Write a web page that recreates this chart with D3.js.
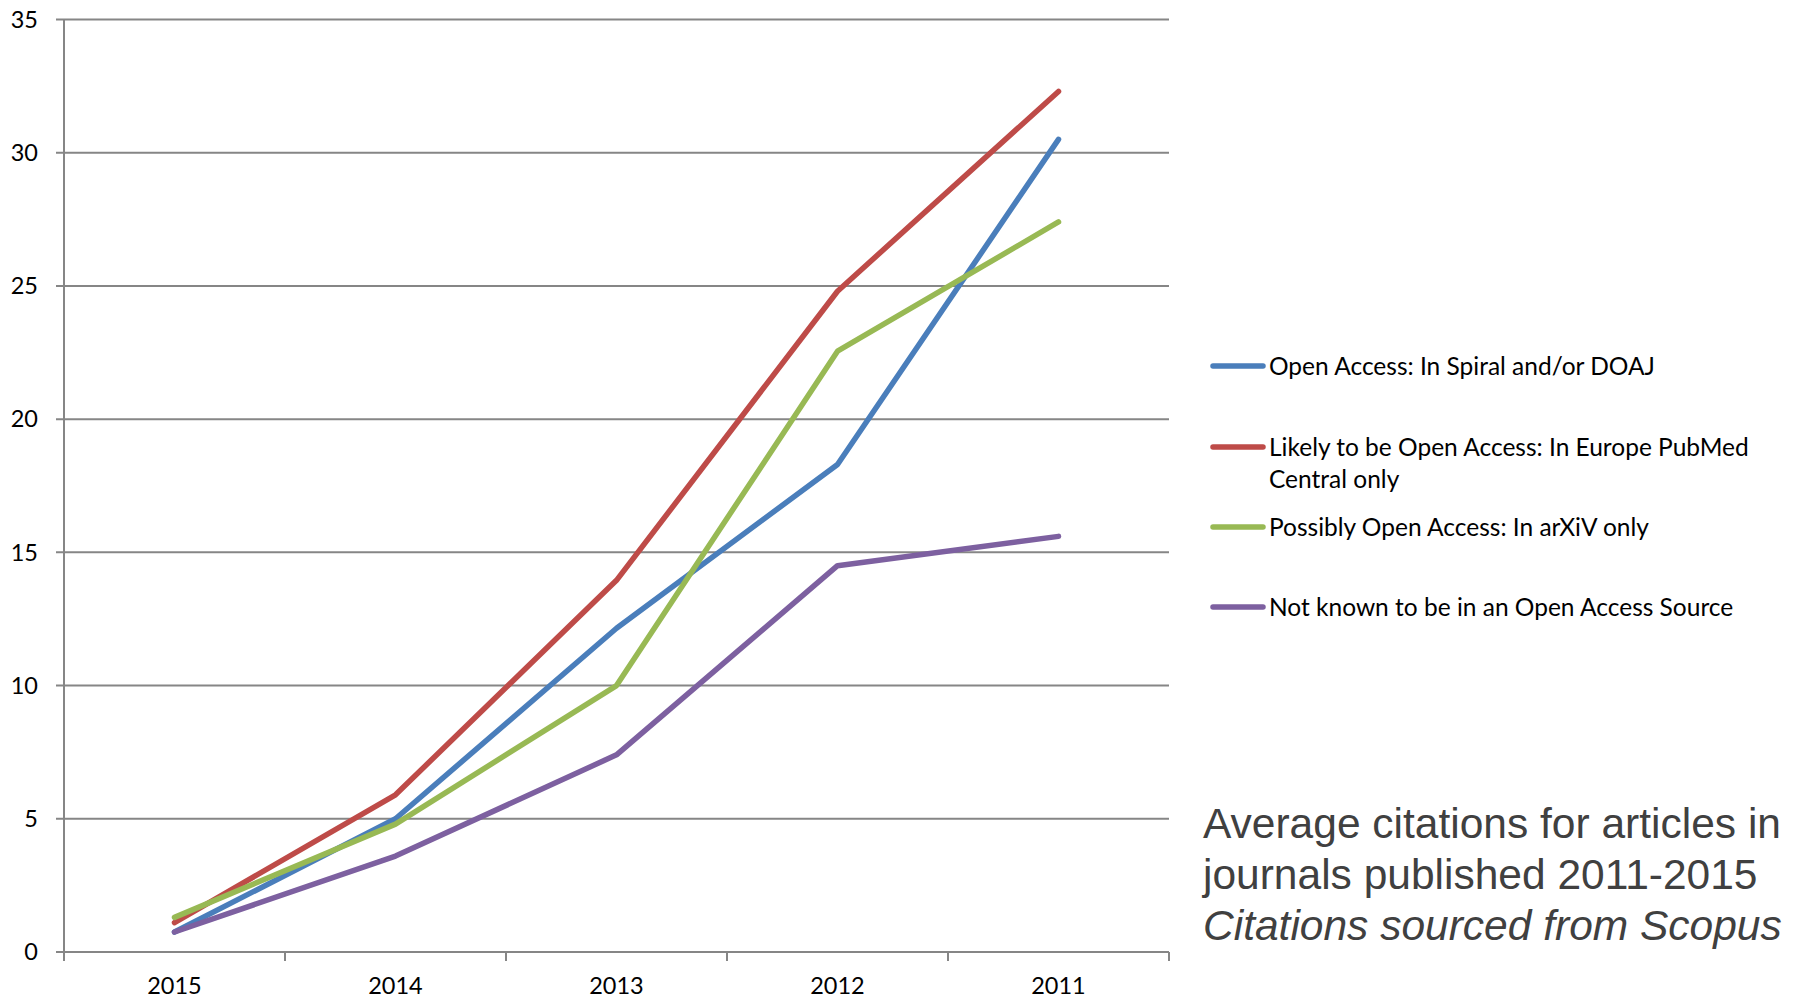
<!DOCTYPE html>
<html><head><meta charset="utf-8">
<script src="https://cdn.jsdelivr.net/npm/d3@7"></script>
<style>body{margin:0;background:#fff}svg{display:block}</style>
</head><body>
<svg id="c" width="1794" height="1000"></svg>
<script>
const categories = ["2015","2014","2013","2012","2011"];
const seriesNames = [
  "Open Access: In Spiral and/or DOAJ",
  "Likely to be Open Access: In Europe PubMed Central only",
  "Possibly Open Access: In arXiV only",
  "Not known to be in an Open Access Source"
];
const openAccess = [0.75, 5.0, 12.15, 18.3, 30.5];
const europePMC = [1.1, 5.9, 13.95, 24.8, 32.3];
const arxiv = [1.3, 4.8, 10.0, 22.55, 27.4];
const notKnown = [0.75, 3.6, 7.4, 14.5, 15.6];
const yTicks = [0,5,10,15,20,25,30,35];
const colors = ["#4A7EBB","#BE4B48","#98B954","#7D60A0"];
const titleLines = ["Average citations for articles in","journals published 2011-2015","Citations sourced from Scopus"];

const series = [openAccess, europePMC, arxiv, notKnown];
const svg = d3.select("#c");
const x = d3.scaleBand().domain(categories).range([64,1169]).padding(0);
const y = d3.scaleLinear().domain([0,35]).range([952,19.5]);
const tickFont = "Lato, 'Open Sans', sans-serif";

// gridlines
svg.append("g").selectAll("line").data(yTicks).join("line")
  .attr("x1",56).attr("x2",1169)
  .attr("y1",d=>y(d)).attr("y2",d=>y(d))
  .attr("stroke","#868686").attr("stroke-width",2);
// y axis line
svg.append("line").attr("x1",64).attr("x2",64).attr("y1",y(35)).attr("y2",y(0))
  .attr("stroke","#868686").attr("stroke-width",2);
// x ticks
const bounds = categories.map(c=>x(c)).concat([x.range()[1]]);
svg.append("g").selectAll("line").data(bounds).join("line")
  .attr("x1",d=>d).attr("x2",d=>d).attr("y1",y(0)).attr("y2",y(0)+9)
  .attr("stroke","#868686").attr("stroke-width",2);
// y labels
svg.append("g").selectAll("text").data(yTicks).join("text")
  .attr("x",38).attr("y",d=>y(d)).attr("dy","0.35em")
  .attr("text-anchor","end").attr("font-family",tickFont).attr("font-size",23.5)
  .attr("fill","#000").text(d=>d);
// x labels
svg.append("g").selectAll("text").data(categories).join("text")
  .attr("x",d=>x(d)+x.bandwidth()/2).attr("y",986).attr("dy","0.35em")
  .attr("text-anchor","middle").attr("font-family",tickFont).attr("font-size",23.5)
  .attr("fill","#000").text(d=>d);

// lines
const line = d3.line().x((d,i)=>x(categories[i])+x.bandwidth()/2).y(d=>y(d));
svg.append("g").selectAll("path").data(series).join("path")
  .attr("d",d=>line(d)).attr("fill","none")
  .attr("stroke",(d,i)=>colors[i]).attr("stroke-width",5.5)
  .attr("stroke-linecap","round").attr("stroke-linejoin","round");

// legend
const legendRows = [
  {lines:[seriesNames[0]], y:366},
  {lines:["Likely to be Open Access: In Europe PubMed","Central only"], y:447},
  {lines:[seriesNames[2]], y:527},
  {lines:[seriesNames[3]], y:607}
];
const lg = svg.append("g");
legendRows.forEach((r,i)=>{
  lg.append("line").attr("x1",1213).attr("x2",1263).attr("y1",r.y).attr("y2",r.y)
    .attr("stroke",colors[i]).attr("stroke-width",5.5).attr("stroke-linecap","round");
  r.lines.forEach((t,j)=>{
    lg.append("text").attr("x",1269).attr("y",r.y+j*32).attr("dy","0.35em")
      .attr("font-family",tickFont).attr("font-size",24.5).attr("fill","#000").text(t);
  });
});

// title
const tf = "'Liberation Sans',Arial,sans-serif";
titleLines.forEach((t,i)=>{
  svg.append("text").attr("x",1203).attr("y",823+i*51).attr("dy","0.35em")
    .attr("font-family",tf).attr("font-size",42.5).attr("fill","#404040")
    .attr("font-style",i===2?"italic":"normal").text(t);
});
</script>
</body></html>
